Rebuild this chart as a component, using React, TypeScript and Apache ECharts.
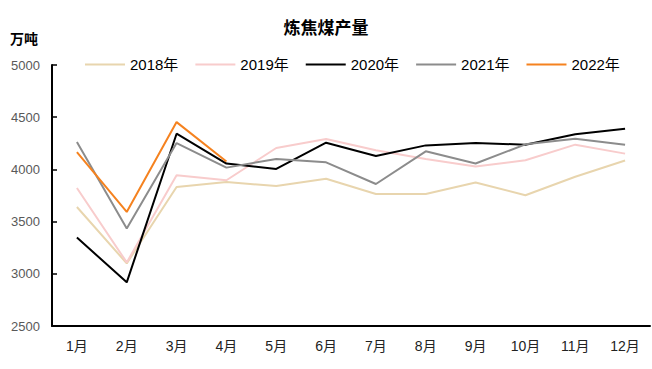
import React, { useEffect, useRef } from "react";
import * as echarts from "echarts";

const months = ["1月", "2月", "3月", "4月", "5月", "6月", "7月", "8月", "9月", "10月", "11月", "12月"];
const s2018 = [3640, 3100, 3832, 3880, 3840, 3910, 3765, 3765, 3875, 3752, 3930, 4085];
const s2019 = [3822, 3109, 3944, 3896, 4205, 4291, 4183, 4100, 4027, 4087, 4237, 4151];
const s2020 = [3348, 2918, 4342, 4056, 4004, 4256, 4128, 4230, 4252, 4237, 4336, 4390];
const s2021 = [4262, 3434, 4252, 4017, 4100, 4068, 3860, 4173, 4056, 4240, 4294, 4237];
const s2022 = [4166, 3593, 4453, 4075];
const yTicks = { min: 2500, max: 5000, interval: 500 };

const seriesDefs = [
  { name: "2018年", data: s2018, color: "#E8D5AE" },
  { name: "2019年", data: s2019, color: "#F8CCCC" },
  { name: "2020年", data: s2020, color: "#000000" },
  { name: "2021年", data: s2021, color: "#8C8C8C" },
  { name: "2022年", data: s2022, color: "#F5821F" },
];

export default function App() {
  const ref = useRef<HTMLDivElement>(null);
  useEffect(() => {
    if (!ref.current) return;
    const chart = echarts.init(ref.current, null, { renderer: "svg" });
    const font = "'Liberation Sans', 'Noto Sans CJK SC', sans-serif";
    chart.setOption({
      animation: false,
      textStyle: { fontFamily: font },
      title: {
        text: "炼焦煤产量",
        left: "center",
        top: 13,
        textStyle: { fontSize: 17, fontWeight: "bold", color: "#000", fontFamily: "'Noto Sans CJK SC', sans-serif" },
      },
      graphic: [
        {
          type: "text",
          left: 10,
          top: 31,
          style: { text: "万吨", fontSize: 14, fontWeight: "bold", fill: "#000", fontFamily: "'Noto Sans CJK SC', sans-serif" },
        },
      ],
      legend: {
        top: 52,
        left: 80,
        itemWidth: 40,
        itemHeight: 10,
        itemGap: 17,
        icon: "path://M0,4 L40,4 L40,6 L0,6 Z",
        textStyle: { fontSize: 15, color: "#000", fontFamily: font, padding: [0, 0, 0, 0] },
        data: seriesDefs.map((s) => s.name),
      },
      grid: { left: 52, right: 2, top: 65, bottom: 43, containLabel: false },
      xAxis: {
        type: "category",
        data: months,
        boundaryGap: true,
        axisLine: { lineStyle: { color: "#000", width: 2 } },
        axisTick: { inside: true, length: 5, lineStyle: { color: "#000", width: 1.5 } },
        axisLabel: { color: "#222", fontSize: 14, margin: 13, fontFamily: font },
      },
      yAxis: {
        type: "value",
        min: yTicks.min,
        max: yTicks.max,
        interval: yTicks.interval,
        axisLine: { show: true, lineStyle: { color: "#000", width: 2 } },
        axisTick: { show: true, inside: true, length: 5, lineStyle: { color: "#000", width: 1.5 } },
        splitLine: { show: false },
        axisLabel: { color: "#595959", fontSize: 13, margin: 12, fontFamily: font, formatter: (v: number) => String(v) },
      },
      series: seriesDefs.map((s) => ({
        name: s.name,
        type: "line",
        data: s.data,
        symbol: "none",
        lineStyle: { color: s.color, width: 2 },
        itemStyle: { color: s.color },
      })),
    });
    return () => chart.dispose();
  }, []);
  return <div ref={ref} style={{ width: 652, height: 369, position: "absolute", left: 0, top: 0 }} />;
}
